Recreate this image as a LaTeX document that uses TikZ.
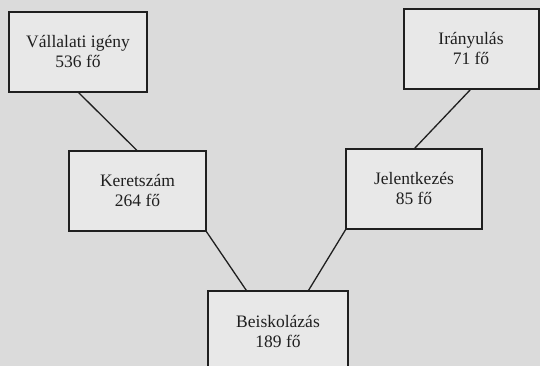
\documentclass[tikz,border=0pt]{standalone}
\usepackage{fontspec}
\setmainfont{Liberation Serif}
\usepackage{tikz}
\definecolor{paper}{gray}{0.86}
\definecolor{boxfill}{gray}{0.91}
\definecolor{ink}{gray}{0.12}
\tikzset{
	stage/.style={draw=ink, fill=boxfill, line width=2pt, rectangle, outer sep=0pt,
		align=center, text=ink, font=\fontsize{17.5}{20}\selectfont},
	link/.style={draw=ink, line width=1.3pt}
}

\begin{document}
\begin{tikzpicture}[x=1pt, y=-1pt]
			%%%%% START %%%%%
			
			\useasboundingbox (0, 0) rectangle (540, 366);
			\clip (0, 0) rectangle (540, 366);
			\fill[paper] (0, 0) rectangle (540, 366);
			
			\node[stage, minimum width=138pt, minimum height=80pt] (vallalati) at (78, 52) {V\'allalati ig\'eny\\536 f\H{o}};
			\node[stage, minimum width=135pt, minimum height=80pt] (iranyulas) at (471, 49) {Ir\'anyul\'as\\71 f\H{o}};
			\node[stage, minimum width=137pt, minimum height=80pt] (keretszam) at (137.5, 191) {Keretsz\'am\\264 f\H{o}};
			\node[stage, minimum width=136pt, minimum height=80pt] (jelentkezes) at (414, 189) {Jelentkez\'es\\85 f\H{o}};
			\node[stage, minimum width=140pt, minimum height=80pt] (beiskolazas) at (278, 331) {Beiskol\'az\'as\\189 f\H{o}};
			
			\draw[link] (vallalati.south) -- (keretszam.north);
			\draw[link] (iranyulas.south) -- (jelentkezes.north);
			\draw[link] (keretszam.south east) -- (beiskolazas.128);
			\draw[link] (jelentkezes.south west) -- (beiskolazas.53);
			
			%%%%% END %%%%%
\end{tikzpicture}
\end{document}
